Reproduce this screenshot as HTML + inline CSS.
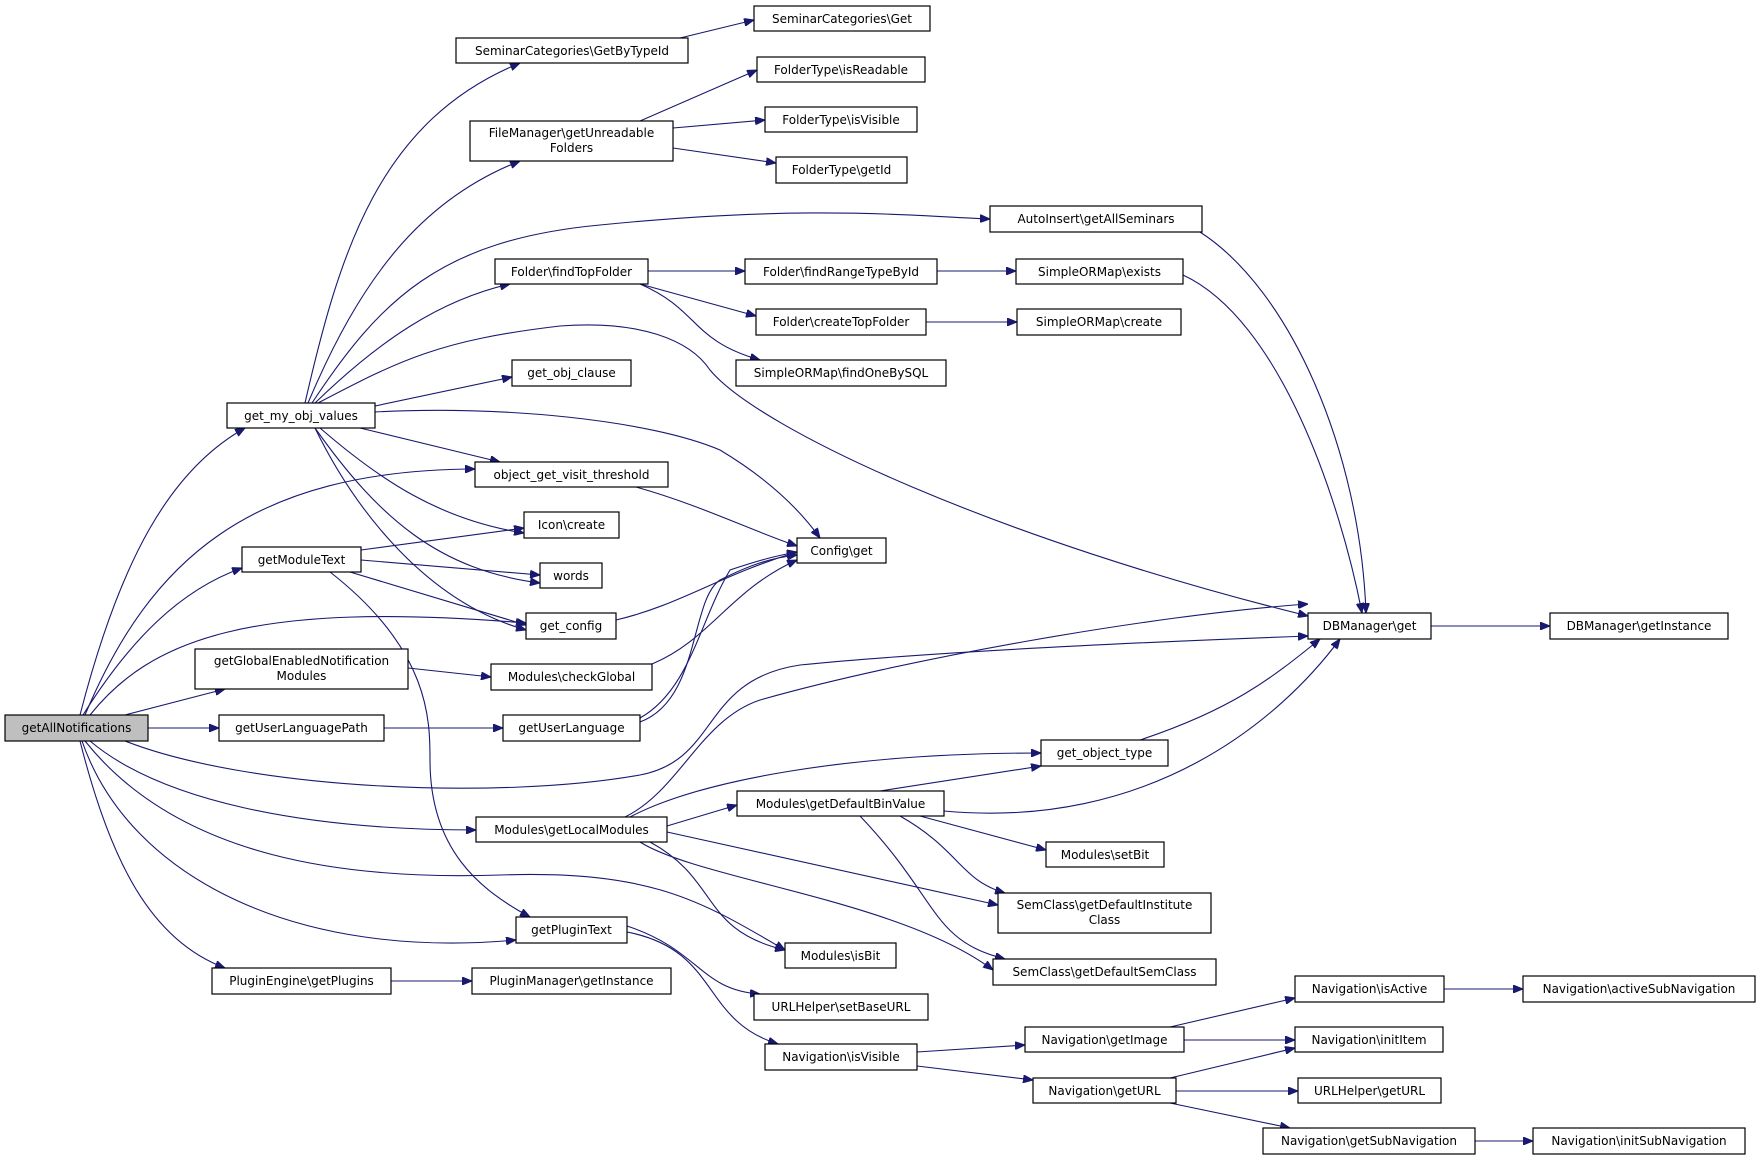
<!DOCTYPE html>
<html><head><meta charset="utf-8"><style>
html,body{margin:0;padding:0;background:#fff}
svg{display:block}
text{font-family:"DejaVu Sans","Liberation Sans",sans-serif;font-size:12px;fill:#000}
.n{fill:#fff;stroke:#000;stroke-width:1.2}
.e{fill:none;stroke:#191970;stroke-width:1.1}
</style></head><body>
<svg width="1764" height="1160" viewBox="0 0 1764 1160" xmlns="http://www.w3.org/2000/svg">
<defs><marker id="a" viewBox="0 0 10 8" refX="10" refY="4" markerWidth="10" markerHeight="8" markerUnits="userSpaceOnUse" orient="auto"><path d="M0,0L10,4L0,8z" fill="#191970" stroke="#191970"/></marker></defs>
<g class="e" marker-end="url(#a)">
<!-- from getAllNotifications -->
<path d="M80,715 C120,560 170,470 245,428"/>
<path d="M85,715 C150,560 250,470 475,469"/>
<path d="M83,715 C130,640 180,590 242,568"/>
<path d="M90,715 C150,640 250,600 526,623"/>
<path d="M125,715 L225,689"/>
<path d="M148,728 L219,728"/>
<path d="M125,741 C250,790 500,800 640,775 C720,760 700,680 800,665 C950,650 1200,640 1308,636"/>
<path d="M90,741 C160,800 300,830 476,830"/>
<path d="M85,741 C180,860 350,880 500,875 C650,870 700,900 785,950"/>
<path d="M82,741 C130,880 300,960 516,940"/>
<path d="M80,741 C110,860 150,940 225,968"/>
<!-- get_my_obj_values -->
<path d="M305,403 C340,250 380,120 520,63"/>
<path d="M308,403 C360,280 420,200 520,161"/>
<path d="M312,403 C380,300 440,240 600,225 C800,205 900,215 990,219"/>
<path d="M315,403 C380,340 440,300 510,284"/>
<path d="M318,403 C400,360 440,340 560,326 C640,320 690,340 710,370 C760,430 1000,540 1308,616"/>
<path d="M375,406 L512,377"/>
<path d="M375,412 C500,405 650,420 720,450 C770,480 800,510 820,538"/>
<path d="M360,428 L500,462"/>
<path d="M320,428 C380,480 440,520 524,533"/>
<path d="M315,428 C380,520 440,570 540,583"/>
<path d="M315,428 C350,500 420,600 526,630"/>
<!-- getModuleText -->
<path d="M361,550 L524,528"/>
<path d="M361,560 L540,575"/>
<path d="M350,572 L526,625"/>
<path d="M330,572 C430,650 430,720 430,760 C430,850 480,890 530,917"/>
<!-- misc -->
<path d="M408,668 L491,677"/>
<path d="M384,728 L503,728"/>
<path d="M640,722 C700,700 690,600 720,580 C750,565 770,558 797,555"/>
<path d="M640,718 C690,690 700,620 730,570 C760,560 775,556 797,552"/>
<path d="M616,620 C680,605 720,575 797,552"/>
<path d="M652,664 C710,640 730,590 797,560"/>
<path d="M625,817 C680,790 700,720 760,700 C900,660 1150,615 1308,604"/>
<path d="M630,817 C700,780 850,753 1041,753"/>
<path d="M667,826 L737,805"/>
<path d="M667,832 L998,905"/>
<path d="M640,842 C700,880 900,900 993,970"/>
<path d="M650,842 C720,880 700,930 785,950"/>
<path d="M880,791 L1041,766"/>
<path d="M944,811 C1150,830 1280,720 1340,639"/>
<path d="M920,816 L1046,850"/>
<path d="M900,816 C960,850 960,880 1005,893"/>
<path d="M860,816 C940,900 930,940 1005,959"/>
<path d="M1140,740 C1230,710 1270,680 1320,639"/>
<path d="M1183,275 C1280,320 1340,500 1362,613"/>
<path d="M1200,232 C1290,290 1360,450 1366,613"/>
<path d="M1431,626 L1550,626"/>
<path d="M680,38 L754,20"/>
<path d="M640,121 L757,70"/>
<path d="M673,128 L765,120"/>
<path d="M673,148 L776,163"/>
<path d="M648,271 L745,271"/>
<path d="M640,284 L756,316"/>
<path d="M640,284 C700,310 690,340 760,360"/>
<path d="M937,271 L1016,271"/>
<path d="M926,322 L1017,322"/>
<path d="M636,487 C700,505 750,530 797,546"/>
<path d="M627,926 C700,950 700,990 760,994"/>
<path d="M627,932 C720,950 700,1020 778,1044"/>
<path d="M391,981 L472,981"/>
<path d="M917,1052 L1025,1045"/>
<path d="M917,1066 L1033,1080"/>
<path d="M1170,1027 L1295,998"/>
<path d="M1184,1040 L1295,1040"/>
<path d="M1170,1078 L1295,1048"/>
<path d="M1176,1091 L1298,1091"/>
<path d="M1170,1103 L1290,1128"/>
<path d="M1444,989 L1523,989"/>
<path d="M1475,1141 L1533,1141"/>
</g>
<g>
<rect class="n" x="5" y="715" width="143" height="26" style="fill:#bfbfbf"/><text x="76.5" y="732" text-anchor="middle">getAllNotifications</text>
<rect class="n" x="227" y="403" width="148" height="25"/><text x="301" y="420" text-anchor="middle">get_my_obj_values</text>
<rect class="n" x="456" y="38" width="232" height="25"/><text x="572" y="55" text-anchor="middle">SeminarCategories\GetByTypeId</text>
<rect class="n" x="754" y="6" width="176" height="25"/><text x="842" y="23" text-anchor="middle">SeminarCategories\Get</text>
<rect class="n" x="470" y="121" width="203" height="40"/><text x="571.5" y="137" text-anchor="middle">FileManager\getUnreadable</text><text x="571.5" y="152" text-anchor="middle">Folders</text>
<rect class="n" x="757" y="57" width="168" height="25"/><text x="841" y="74" text-anchor="middle">FolderType\isReadable</text>
<rect class="n" x="765" y="107" width="152" height="25"/><text x="841" y="124" text-anchor="middle">FolderType\isVisible</text>
<rect class="n" x="776" y="157" width="131" height="26"/><text x="841.5" y="174" text-anchor="middle">FolderType\getId</text>
<rect class="n" x="990" y="206" width="212" height="26"/><text x="1096" y="223" text-anchor="middle">AutoInsert\getAllSeminars</text>
<rect class="n" x="495" y="259" width="153" height="25"/><text x="571.5" y="276" text-anchor="middle">Folder\findTopFolder</text>
<rect class="n" x="745" y="259" width="192" height="25"/><text x="841" y="276" text-anchor="middle">Folder\findRangeTypeById</text>
<rect class="n" x="1016" y="259" width="167" height="25"/><text x="1099.5" y="276" text-anchor="middle">SimpleORMap\exists</text>
<rect class="n" x="756" y="309" width="170" height="26"/><text x="841" y="326" text-anchor="middle">Folder\createTopFolder</text>
<rect class="n" x="1017" y="309" width="164" height="26"/><text x="1099" y="326" text-anchor="middle">SimpleORMap\create</text>
<rect class="n" x="736" y="360" width="210" height="26"/><text x="841" y="377" text-anchor="middle">SimpleORMap\findOneBySQL</text>
<rect class="n" x="512" y="360" width="119" height="26"/><text x="571.5" y="377" text-anchor="middle">get_obj_clause</text>
<rect class="n" x="475" y="462" width="193" height="25"/><text x="571.5" y="479" text-anchor="middle">object_get_visit_threshold</text>
<rect class="n" x="524" y="512" width="95" height="26"/><text x="571.5" y="529" text-anchor="middle">Icon\create</text>
<rect class="n" x="797" y="538" width="89" height="25"/><text x="841.5" y="555" text-anchor="middle">Config\get</text>
<rect class="n" x="242" y="547" width="119" height="25"/><text x="301.5" y="564" text-anchor="middle">getModuleText</text>
<rect class="n" x="540" y="563" width="62" height="25"/><text x="571" y="580" text-anchor="middle">words</text>
<rect class="n" x="526" y="613" width="90" height="26"/><text x="571" y="630" text-anchor="middle">get_config</text>
<rect class="n" x="1308" y="613" width="123" height="26"/><text x="1369.5" y="630" text-anchor="middle">DBManager\get</text>
<rect class="n" x="1550" y="613" width="178" height="26"/><text x="1639" y="630" text-anchor="middle">DBManager\getInstance</text>
<rect class="n" x="195" y="649" width="213" height="40"/><text x="301.5" y="665" text-anchor="middle">getGlobalEnabledNotification</text><text x="301.5" y="680" text-anchor="middle">Modules</text>
<rect class="n" x="491" y="664" width="161" height="26"/><text x="571.5" y="681" text-anchor="middle">Modules\checkGlobal</text>
<rect class="n" x="219" y="715" width="165" height="26"/><text x="301.5" y="732" text-anchor="middle">getUserLanguagePath</text>
<rect class="n" x="503" y="715" width="137" height="26"/><text x="571.5" y="732" text-anchor="middle">getUserLanguage</text>
<rect class="n" x="1041" y="740" width="127" height="26"/><text x="1104.5" y="757" text-anchor="middle">get_object_type</text>
<rect class="n" x="737" y="791" width="207" height="25"/><text x="840.5" y="808" text-anchor="middle">Modules\getDefaultBinValue</text>
<rect class="n" x="476" y="817" width="191" height="25"/><text x="571.5" y="834" text-anchor="middle">Modules\getLocalModules</text>
<rect class="n" x="1046" y="842" width="118" height="25"/><text x="1105" y="859" text-anchor="middle">Modules\setBit</text>
<rect class="n" x="998" y="893" width="213" height="40"/><text x="1104.5" y="909" text-anchor="middle">SemClass\getDefaultInstitute</text><text x="1104.5" y="924" text-anchor="middle">Class</text>
<rect class="n" x="516" y="917" width="111" height="26"/><text x="571.5" y="934" text-anchor="middle">getPluginText</text>
<rect class="n" x="785" y="943" width="111" height="25"/><text x="840.5" y="960" text-anchor="middle">Modules\isBit</text>
<rect class="n" x="993" y="959" width="223" height="26"/><text x="1104.5" y="976" text-anchor="middle">SemClass\getDefaultSemClass</text>
<rect class="n" x="212" y="968" width="179" height="26"/><text x="301.5" y="985" text-anchor="middle">PluginEngine\getPlugins</text>
<rect class="n" x="472" y="968" width="199" height="26"/><text x="571.5" y="985" text-anchor="middle">PluginManager\getInstance</text>
<rect class="n" x="1295" y="976" width="149" height="26"/><text x="1369.5" y="993" text-anchor="middle">Navigation\isActive</text>
<rect class="n" x="1523" y="976" width="232" height="26"/><text x="1639" y="993" text-anchor="middle">Navigation\activeSubNavigation</text>
<rect class="n" x="754" y="994" width="174" height="26"/><text x="841" y="1011" text-anchor="middle">URLHelper\setBaseURL</text>
<rect class="n" x="1025" y="1027" width="159" height="25"/><text x="1104.5" y="1044" text-anchor="middle">Navigation\getImage</text>
<rect class="n" x="1295" y="1027" width="148" height="25"/><text x="1369" y="1044" text-anchor="middle">Navigation\initItem</text>
<rect class="n" x="765" y="1044" width="152" height="26"/><text x="841" y="1061" text-anchor="middle">Navigation\isVisible</text>
<rect class="n" x="1033" y="1078" width="143" height="25"/><text x="1104.5" y="1095" text-anchor="middle">Navigation\getURL</text>
<rect class="n" x="1298" y="1078" width="143" height="25"/><text x="1369.5" y="1095" text-anchor="middle">URLHelper\getURL</text>
<rect class="n" x="1263" y="1128" width="212" height="26"/><text x="1369" y="1145" text-anchor="middle">Navigation\getSubNavigation</text>
<rect class="n" x="1533" y="1128" width="212" height="26"/><text x="1639" y="1145" text-anchor="middle">Navigation\initSubNavigation</text>
</g>
</svg>
</body></html>
